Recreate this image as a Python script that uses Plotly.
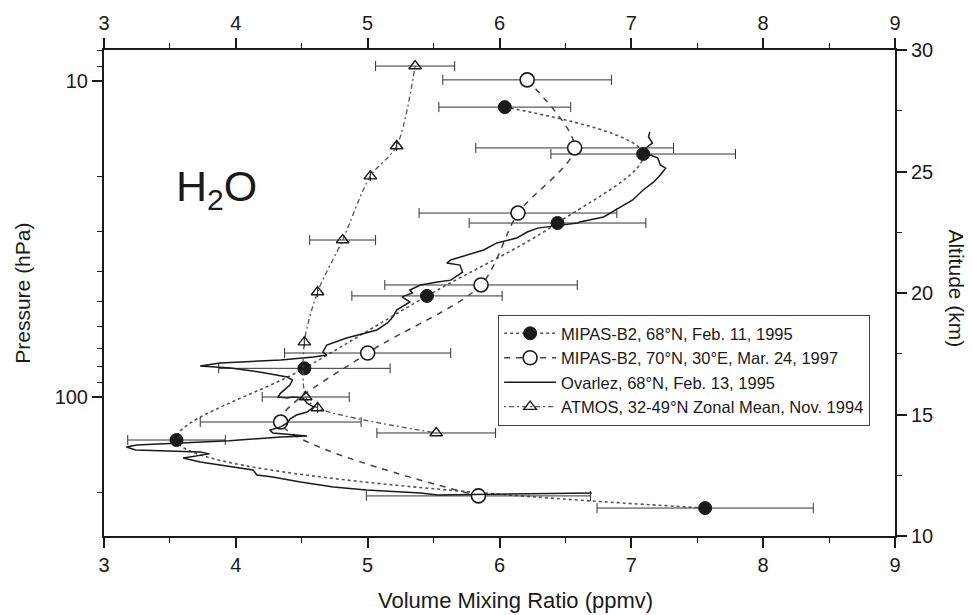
import plotly.graph_objects as go

# MIPAS-B2, 68N, Feb. 11, 1995 (filled circles)
mipas95_vmr = [6.04, 7.09, 6.44, 5.45, 4.52, 3.55, 7.56]
mipas95_alt = [27.65, 25.72, 22.88, 19.88, 16.90, 13.95, 11.15]
mipas95_err = [0.50, 0.70, 0.67, 0.57, 0.65, 0.37, 0.82]

# MIPAS-B2, 70N 30E, Mar. 24, 1997 (open circles)
mipas97_vmr = [6.21, 6.57, 6.14, 5.86, 5.00, 4.34, 5.84]
mipas97_alt = [28.77, 25.97, 23.29, 20.33, 17.53, 14.69, 11.65]
mipas97_err = [0.64, 0.75, 0.75, 0.73, 0.63, 0.61, 0.85]

# Ovarlez in-situ profile, 68N, Feb. 13, 1995
ovarlez_vmr = [7.14, 7.13, 7.16, 7.12, 7.10, 7.20, 7.22, 7.26, 7.22, 7.17,
               7.09, 7.01, 6.92, 6.79, 6.61, 6.59, 6.29, 6.21, 6.13, 5.98,
               5.88, 5.75, 5.63, 5.60, 5.70, 5.72, 5.63, 5.53, 5.40, 5.32,
               5.34, 5.26, 5.32, 5.22, 5.19, 5.15, 5.09, 5.07, 4.84, 4.69,
               4.66, 4.69, 4.59, 4.34, 3.88, 3.73, 3.96, 4.18, 4.39, 4.43,
               4.41, 4.37, 4.34, 4.32, 4.39, 4.43, 4.51, 4.54, 4.59, 4.54,
               4.46, 4.41, 4.39, 4.34, 4.26, 4.28, 4.54, 4.34, 3.95, 3.25,
               3.17, 3.24, 3.73, 3.80, 3.60, 3.73, 3.98, 4.13, 4.16, 4.28,
               4.49, 4.74, 4.99, 5.40, 5.53, 6.00, 6.70]
ovarlez_alt = [26.63, 26.42, 26.17, 26.01, 25.76, 25.56, 25.27, 25.14, 24.86, 24.57,
               24.24, 23.83, 23.54, 23.13, 22.92, 22.88, 22.67, 22.51, 22.26, 22.06,
               21.77, 21.56, 21.36, 21.23, 21.15, 20.86, 20.53, 20.45, 20.33, 20.12,
               20.00, 19.84, 19.63, 19.30, 19.01, 18.77, 18.56, 18.48, 18.15, 17.86,
               17.57, 17.45, 17.37, 17.24, 17.12, 17.00, 16.91, 16.75, 16.54, 16.42,
               16.21, 16.00, 15.88, 15.72, 15.68, 15.72, 15.68, 15.47, 15.31, 15.10,
               14.98, 14.81, 14.65, 14.49, 14.36, 14.24, 14.12, 14.07, 13.92, 13.74,
               13.66, 13.54, 13.46, 13.38, 13.21, 13.05, 12.84, 12.72, 12.51, 12.43,
               12.22, 12.02, 11.89, 11.77, 11.69, 11.72, 11.77]

# ATMOS, 32-49N zonal mean, Nov. 1994 (open triangles)
atmos_vmr = [5.36, 5.22, 5.02, 4.81, 4.62, 4.52, 4.53, 4.62, 5.52]
atmos_alt = [29.34, 26.05, 24.81, 22.18, 20.04, 17.98, 15.72, 15.27, 14.24]
atmos_err = [0.30, 0, 0, 0.25, 0, 0, 0.33, 0, 0.45]

vmr_ticks = [3, 4, 5, 6, 7, 8, 9]
alt_ticks = [10, 15, 20, 25, 30]
p_ticks = [10, 100]
p_minor = [8, 9, 20, 30, 40, 50, 60, 70, 80, 90, 200]

FONT = "Liberation Sans, Arial, Helvetica, sans-serif"
INK = "#1a1a1a"
ERR = "#333333"

fig = go.Figure()

# Base subplot (VMR vs pressure) and the top VMR axis need a trace to be drawn
fig.add_trace(go.Scatter(x=[None], y=[None], xaxis="x", yaxis="y",
                         showlegend=False, hoverinfo="skip"))
fig.add_trace(go.Scatter(x=[None], y=[None], xaxis="x2", yaxis="y",
                         showlegend=False, hoverinfo="skip"))

fig.add_trace(go.Scatter(
    x=mipas95_vmr, y=mipas95_alt, xaxis="x", yaxis="y2",
    mode="lines+markers", name="MIPAS-B2, 68°N, Feb. 11, 1995",
    line=dict(color="#555555", width=1.6, dash="dot", shape="spline", smoothing=1.0),
    marker=dict(symbol="circle", size=13, color=INK, line=dict(color=INK, width=1)),
    error_x=dict(type="data", array=mipas95_err, color=ERR, thickness=1, width=5),
))

fig.add_trace(go.Scatter(
    x=mipas97_vmr, y=mipas97_alt, xaxis="x", yaxis="y2",
    mode="lines+markers", name="MIPAS-B2, 70°N, 30°E, Mar. 24, 1997",
    line=dict(color="#444444", width=1.5, dash="6px,6px", shape="spline", smoothing=0.8),
    marker=dict(symbol="circle", size=14, color="white", line=dict(color=INK, width=1.6)),
    error_x=dict(type="data", array=mipas97_err, color=ERR, thickness=1, width=5),
))

fig.add_trace(go.Scatter(
    x=ovarlez_vmr, y=ovarlez_alt, xaxis="x", yaxis="y2",
    mode="lines", name="Ovarlez, 68°N, Feb. 13, 1995",
    line=dict(color=INK, width=1.5),
))

fig.add_trace(go.Scatter(
    x=atmos_vmr, y=atmos_alt, xaxis="x", yaxis="y2",
    mode="lines+markers", name="ATMOS, 32-49°N Zonal Mean, Nov. 1994",
    line=dict(color="#555555", width=1.3, dash="2px,3px,5px,3px", shape="spline", smoothing=0.8),
    marker=dict(symbol="triangle-up-open", size=11, color=INK, line=dict(color=INK, width=1.4)),
    error_x=dict(type="data", array=atmos_err, color=ERR, thickness=1, width=5),
))

axis_common = dict(
    showline=True, linecolor=INK, linewidth=2, showgrid=False, zeroline=False,
    ticks="outside", ticklen=10, tickwidth=1.5, tickcolor=INK,
    tickfont=dict(family=FONT, size=20, color=INK),
)
minor_common = dict(ticks="outside", ticklen=5, tickcolor=INK, tickwidth=1.2)

fig.update_layout(
    width=973, height=615,
    margin=dict(l=104, r=78, t=50, b=79),
    paper_bgcolor="white", plot_bgcolor="white",
    font=dict(family=FONT, color=INK),
    xaxis=dict(range=[3, 9], tickvals=vmr_ticks, side="bottom", anchor="y",
               minor=dict(dtick=0.5, tick0=3, **minor_common), **axis_common),
    xaxis2=dict(range=[3, 9], tickvals=vmr_ticks, side="top", overlaying="x", anchor="y",
                minor=dict(dtick=0.5, tick0=3, **minor_common), **axis_common),
    yaxis=dict(type="log", range=[2.4399, 0.9019], tickvals=p_ticks, ticktext=["10", "100"],
               side="left", anchor="x",
               minor=dict(tickvals=p_minor, **minor_common), **axis_common),
    yaxis2=dict(range=[10, 30], tickvals=alt_ticks, side="right", overlaying="y", anchor="x",
                minor=dict(dtick=2.5, tick0=10, **minor_common), **axis_common),
    legend=dict(x=0.498, y=0.455, xanchor="left", yanchor="top",
                bgcolor="white", bordercolor="#444444", borderwidth=1.2,
                font=dict(family=FONT, size=16.5, color=INK),
                tracegroupgap=0, itemwidth=52),
    showlegend=True,
)

fig.add_annotation(text="H<sub>2</sub>O", x=3.85, y=24.3, xref="x", yref="y2",
                   showarrow=False, font=dict(family=FONT, size=43, color=INK))
fig.add_annotation(text="Volume Mixing Ratio (ppmv)", x=0.52, y=-0.132, xref="paper", yref="paper",
                   xanchor="center", yanchor="middle", showarrow=False,
                   font=dict(family=FONT, size=22, color=INK))
fig.add_annotation(text="Pressure (hPa)", x=-0.104, y=0.5, xref="paper", yref="paper",
                   xanchor="center", yanchor="middle", textangle=-90, showarrow=False,
                   font=dict(family=FONT, size=21, color=INK))
fig.add_annotation(text="Altitude (km)", x=1.078, y=0.51, xref="paper", yref="paper",
                   xanchor="center", yanchor="middle", textangle=90, showarrow=False,
                   font=dict(family=FONT, size=21, color=INK))

fig.write_html("out.html")
